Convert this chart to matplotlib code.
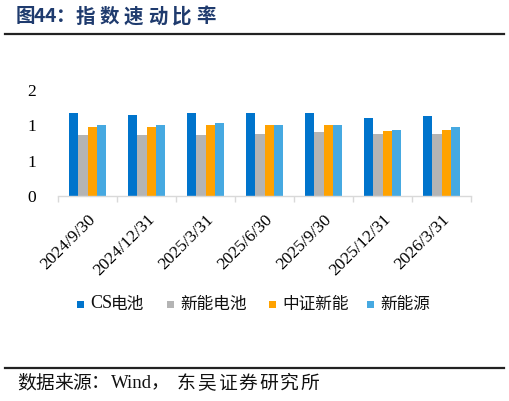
import matplotlib
matplotlib.use("Agg")
import numpy as np
import matplotlib.pyplot as plt
from matplotlib.lines import Line2D
from matplotlib.patches import Rectangle
from matplotlib.ticker import FuncFormatter

dates = ["2024/9/30", "2024/12/31", "2025/3/31", "2025/6/30",
         "2025/9/30", "2025/12/31", "2026/3/31"]
cs_battery = [1.18, 1.14, 1.17, 1.17, 1.17, 1.11, 1.13]
new_energy_battery = [0.86, 0.87, 0.87, 0.88, 0.90, 0.88, 0.88]
csi_new_energy = [0.98, 0.98, 1.01, 1.00, 1.00, 0.92, 0.94]
new_energy_source = [1.01, 1.00, 1.04, 1.01, 1.01, 0.94, 0.97]

series = [("CS电池", cs_battery, "#0074CC"),
          ("新能电池", new_energy_battery, "#B4B4B4"),
          ("中证新能", csi_new_energy, "#FFA200"),
          ("新能源", new_energy_source, "#46A9E1")]

serif_cjk = ["Liberation Serif", "Noto Sans CJK SC"]
cjk = ["Noto Sans CJK SC", "DejaVu Sans"]

W, H = 510, 401
fig = plt.figure(figsize=(5.10, 4.01), dpi=100)

# title, characters spread out like the original
title = "图44：指数速动比率"
xs = [16, 34, 45, 56, 76, 100, 124, 148, 172, 196]
for ch, x in zip(title, xs):
    fig.text(x / W, 1 - 17 / H, ch, fontsize=14, fontweight="bold",
             color="#1F3B6E", family=cjk, va="center", ha="left")

fig.add_artist(Line2D([5 / W, 504 / W], [1 - 34 / H] * 2, color="#222222", lw=1.6))
fig.add_artist(Line2D([5 / W, 504 / W], [1 - 368 / H] * 2, color="#222222", lw=1.6))

# source line
src_parts = [("数", 17), ("据", 35.5), ("来", 54), ("源", 72.5), ("：", 91),
             ("Wind", 111), ("，", 151),
             ("东", 177), ("吴", 197.5), ("证", 218), ("券", 238.5),
             ("研", 259), ("究", 279.5), ("所", 300)]
for txt, x in src_parts:
    fig.text(x / W, 1 - 384 / H, txt, fontsize=13.5, family=serif_cjk,
             color="#111111", va="center", ha="left")

ax = fig.add_axes([58 / W, 1 - 196 / H, (471 - 58) / W, (196 - 90) / H])

n = len(dates)
x = np.arange(n)
bw = 0.16
for i, (name, vals, col) in enumerate(series):
    ax.bar(x + (i - 1.5) * bw, vals, bw, color=col, label=name)

ax.set_xlim(-0.5, n - 0.5)
ax.set_ylim(0, 1.5)
ax.set_yticks([0, 0.5, 1.0, 1.5])
ax.yaxis.set_major_formatter(FuncFormatter(lambda v, p: "%d" % int(v + 0.5)))
ax.tick_params(axis="y", length=0, pad=16, labelsize=12.5)
for lab in ax.get_yticklabels():
    lab.set_family("Liberation Serif")

ax.set_xticks(np.arange(n + 1) - 0.5, minor=True)
ax.set_xticks(x)
ax.set_xticklabels(dates, rotation=45, ha="right", rotation_mode="anchor",
                   family="Liberation Serif", fontsize=12.5)
ax.tick_params(axis="x", which="major", length=0, pad=11)
ax.tick_params(axis="x", which="minor", length=4, color="#D9D9D9", width=1)

for s in ["top", "right", "left"]:
    ax.spines[s].set_visible(False)
ax.spines["bottom"].set_color("#D9D9D9")
ax.spines["bottom"].set_linewidth(1)

# legend drawn by hand so the latin part keeps the serif face
leg_x = [77, 167, 269, 367]
leg_y = 1 - 304 / H
for (name, vals, col), lx in zip(series, leg_x):
    fig.add_artist(Rectangle((lx / W, leg_y - 3.5 / H), 7 / W, 7 / H,
                             transform=fig.transFigure, color=col, lw=0))
    tx = lx + 13
    if name.startswith("CS"):
        fig.text(tx / W, leg_y, "CS", fontsize=13, family="Liberation Serif",
                 va="center", ha="left", color="#111111")
        name = name[2:]
        tx += 21
    fig.text(tx / W, leg_y, name, fontsize=12, family=cjk,
             va="center", ha="left", color="#111111")

fig.savefig("out.png", dpi=100)
